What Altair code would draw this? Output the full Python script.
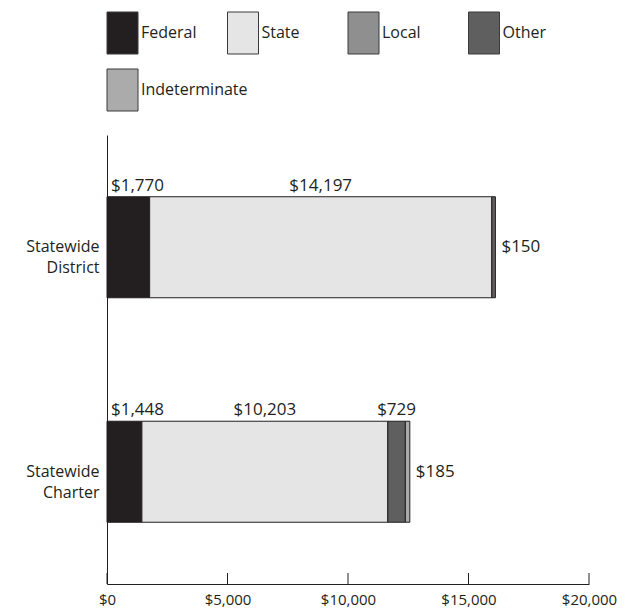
import altair as alt
import pandas as pd

categories = ["Statewide District", "Statewide Charter"]
series = ["Federal", "State", "Local", "Other", "Indeterminate"]
federal = [1770, 1448]
state = [14197, 10203]
local = [0, 0]
other = [150, 729]
indeterminate = [0, 185]
colors = ["#231f20", "#e5e5e6", "#8f8f8f", "#5f5f5f", "#ababab"]
tick_values = [0, 5000, 10000, 15000, 20000]
legend_cols = [0, 1, 2, 3, 0]
legend_rows = [0, 0, 0, 0, 1]

values = {"Federal": federal, "State": state, "Local": local,
          "Other": other, "Indeterminate": indeterminate}

rows = []
for ci, cat in enumerate(categories):
    start = 0
    segs = []
    for si, s in enumerate(series):
        v = values[s][ci]
        if v > 0:
            segs.append(dict(cat=cat, series=s, idx=si, value=v,
                             start=start, end=start + v, mid=start + v / 2,
                             label=f"${v:,}"))
        start += v
    for k, seg in enumerate(segs):
        if k == len(segs) - 1:
            seg["place"] = "right"
        elif seg["idx"] == 0:
            seg["place"] = "left"
        else:
            seg["place"] = "center"
    rows.extend(segs)
df = pd.DataFrame(rows)

df_leg = pd.DataFrame({"series": series, "col": legend_cols, "row": legend_rows})
df_ticks = pd.DataFrame({"t": tick_values})

DARK = "#231f20"
color_scale = alt.Scale(domain=series, range=colors)

bars = alt.Chart(df).mark_bar(stroke=DARK, strokeWidth=1).encode(
    x=alt.X("value:Q", stack="zero",
            scale=alt.Scale(domain=[0, 20000], nice=False),
            axis=alt.Axis(orient="bottom", values=tick_values, format="$,.0f",
                          title=None, grid=False, ticks=False, labelPadding=8,
                          labelFlush=False, labelOverlap=False,
                          labelFontSize=15, labelColor=DARK, domainColor=DARK)),
    y=alt.Y("cat:N", sort=categories,
            scale=alt.Scale(domain=categories,
                            paddingInner=0.55, paddingOuter=0.275),
            axis=alt.Axis(orient="left", title=None, ticks=False, labelPadding=8,
                          labelFontSize=16, labelColor=DARK, domainColor=DARK,
                          labelExpr="split(datum.value, ' ')", labelLineHeight=21,
                          labelAlign="right", labelBaseline="middle")),
    color=alt.Color("series:N", scale=color_scale, legend=None),
    order=alt.Order("idx:Q"),
)

base_lab = alt.Chart(df)
lab_left = base_lab.transform_filter(alt.datum.place == "left").mark_text(
    align="left", baseline="alphabetic", dx=4, dy=-6, fontSize=17, color=DARK
).encode(x="start:Q", y=alt.Y("cat:N", sort=categories, bandPosition=0), text="label:N")

lab_center = base_lab.transform_filter(alt.datum.place == "center").mark_text(
    align="center", baseline="alphabetic", dy=-6, fontSize=17, color=DARK
).encode(x="mid:Q", y=alt.Y("cat:N", sort=categories, bandPosition=0), text="label:N")

lab_right = base_lab.transform_filter(alt.datum.place == "right").mark_text(
    align="left", baseline="middle", dx=6, fontSize=17, color=DARK
).encode(x="end:Q", y=alt.Y("cat:N", sort=categories), text="label:N")

ticks = alt.Chart(df_ticks).mark_rule(color=DARK, strokeWidth=1).encode(
    x="t:Q", y=alt.value(438), y2=alt.value(449)
)

main = alt.layer(bars, lab_left, lab_center, lab_right, ticks)

leg_x = alt.X("col:Q", scale=alt.Scale(domain=[0, 4], range=[15.5, 497.5]), axis=None)
leg_y = alt.Y("row:Q", scale=alt.Scale(domain=[0, 1], range=[-102, -45]), axis=None)

leg_rect = alt.Chart(df_leg).mark_rect(width=31, height=42, stroke="#3a3a3a", strokeWidth=1).encode(
    x=leg_x, y=leg_y, color=alt.Color("series:N", scale=color_scale, legend=None)
)
leg_text = alt.Chart(df_leg).mark_text(
    align="left", baseline="middle", dx=18.5, fontSize=16, color=DARK
).encode(x=leg_x, y=leg_y, text="series:N")

legend = alt.layer(leg_rect, leg_text)

chart = alt.layer(main, legend).resolve_scale(
    x="independent", y="independent"
).properties(
    width=482, height=449,
    autosize=alt.AutoSizeParams(type="none"),
    padding={"left": 99, "top": 127, "right": 32, "bottom": 27},
).configure(
    font="Open Sans",
    view=alt.ViewConfig(strokeWidth=0, stroke="transparent"),
)

chart.save("out.html", embed_options={"renderer": "svg", "actions": False})
